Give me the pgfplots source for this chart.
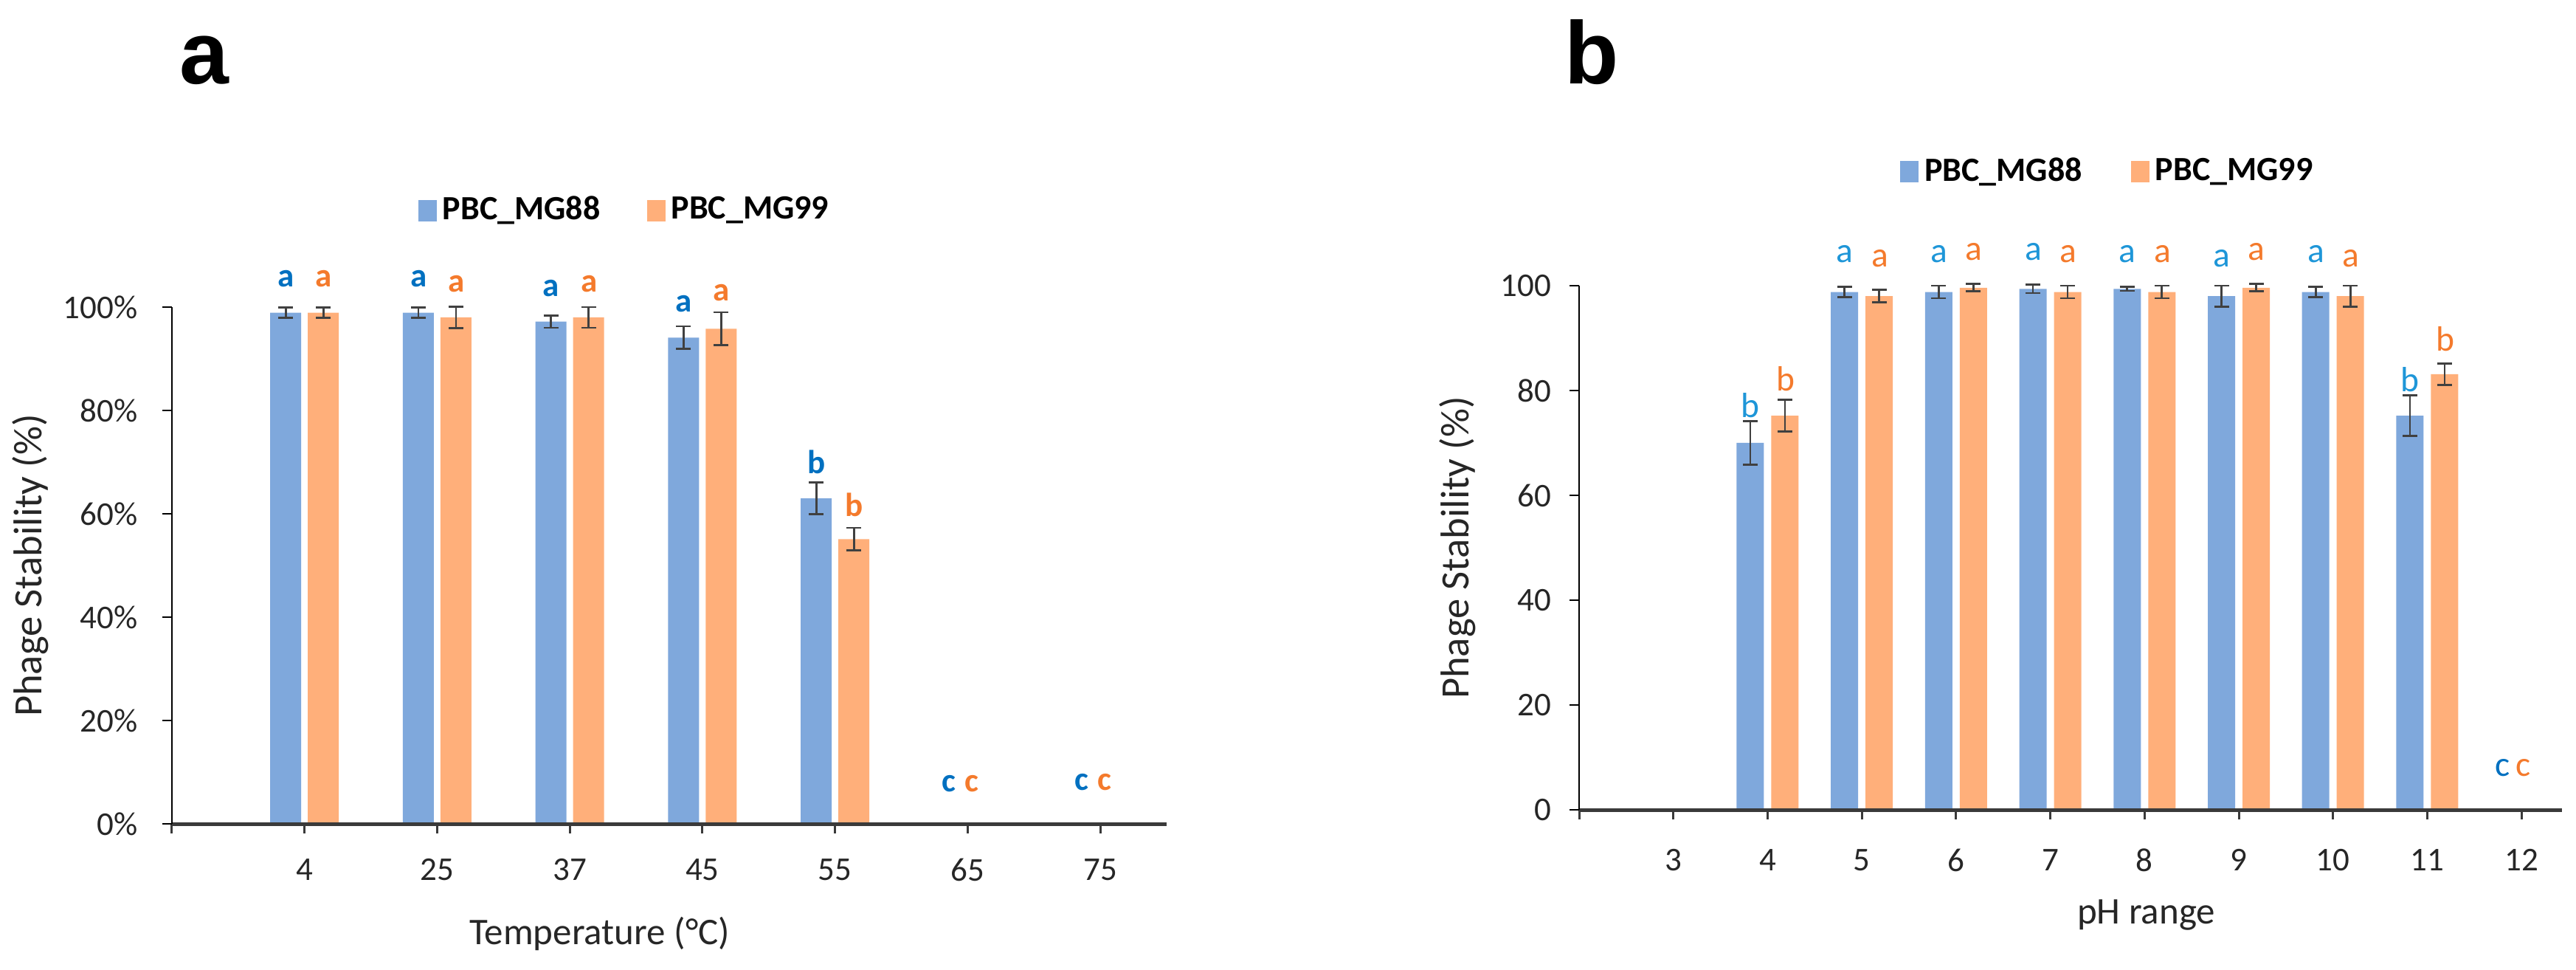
\documentclass[border=0pt]{standalone}
\usepackage{pgfplots}
\pgfplotsset{compat=1.18}
\usepackage{fontspec}
\setmainfont{Carlito}
\newfontfamily\panelfont{Liberation Sans}
\definecolor{barblue}{HTML}{7FA8DC}
\definecolor{barorange}{HTML}{FFAF7A}
\definecolor{errgray}{HTML}{404040}
\definecolor{ablue}{HTML}{0070C0}
\definecolor{bblue}{HTML}{1E96D8}
\definecolor{lorange}{HTML}{F47A2C}
\definecolor{axgray}{HTML}{3A3A3A}
\tikzset{
  lta/.style={font=\bfseries\fontsize{9}{10}\selectfont, inner sep=0pt, anchor=center},
  ltb/.style={font=\fontsize{9.5}{10}\selectfont, inner sep=0pt, anchor=center},
}
\pgfplotsset{
  errbar/.style={error bars/.cd, y dir=both, y explicit,
      error bar style={line width=0.55pt, errgray},
      error mark options={rotate=90, line width=0.55pt, errgray, mark size=2pt}},
  sq/.style={legend image code/.code={\fill[fill=#1] (0pt,-2.9pt) rectangle (5pt,2.9pt);}},
  mybase/.style={
    scale only axis, clip=false, axis on top,
    axis x line*=bottom, axis y line*=left,
    x axis line style={line width=1pt, axgray, -},
    y axis line style={line width=0.45pt, black, -},
    tick align=outside, major tick length=2.6pt,
    xtick style={line width=0.6pt, axgray},
    ytick style={line width=0.45pt, black},
    tick label style={font=\fontsize{9}{10}\selectfont, text=black!85},
    xlabel style={font=\fontsize{10.2}{12}\selectfont, text=black!85},
    ylabel style={font=\fontsize{10.9}{12}\selectfont, text=black!85},
    legend columns=2,
  },
}
\begin{document}
\begin{tikzpicture}[x=1pt,y=1pt]
\useasboundingbox (0,0) rectangle (698.2,262.6);
% ---------------- panel a ----------------
\node[font=\panelfont\bfseries\fontsize{24}{26}\selectfont, inner sep=0pt, anchor=center] at (55.4,246.2) {a};
\begin{axis}[mybase,
  ybar=1.8pt, bar width=8.4pt,
  at={(46.6pt,39.4pt)}, anchor=south west,
  width=269.6pt, height=140pt,
  xmin=0, xmax=7.5, ymin=0, ymax=100,
  xtick={0,...,7}, xticklabels={,4,25,37,45,55,65,75},
  ytick={0,20,...,100}, yticklabels={0\%,20\%,40\%,60\%,80\%,100\%},
  xticklabel style={yshift=-3.3pt},
  yticklabel style={xshift=-3.2pt},
  xlabel={Temperature (°C)}, ylabel={Phage Stability (\%)},
  xlabel style={at={(axis description cs:0.43,-0.213)}, anchor=center},
  ylabel style={at={(axis description cs:-0.1424,0.5)}, anchor=center},
  legend style={draw=none, fill=none, at={(axis description cs:0.247,1.187)}, anchor=west,
    inner sep=0pt, font=\bfseries\fontsize{9.2}{10}\selectfont,
    nodes={inner sep=1.6pt},
    /tikz/every even column/.append style={column sep=11pt}},
]
\addplot[fill=barblue, draw=none, sq=barblue, errbar]
 table[x=x, y=y, y error=e]{
x y e
1 98.9 1.0
2 98.9 1.0
3 97.2 1.2
4 94.1 2.2
5 63.0 3.1
};
\addlegendentry{PBC\_MG88}
\addplot[fill=barorange, draw=none, sq=barorange, errbar]
 table[x=x, y=y, y error=e]{
x y e
1 98.9 1.0
2 98.0 2.1
3 98.0 2.0
4 95.8 3.2
5 55.1 2.2
};
\addlegendentry{PBC\_MG99}
\node[lta, text=ablue] at (axis cs:0.86,105.5) {a};
\node[lta, text=lorange] at (axis cs:1.145,105.5) {a};
\node[lta, text=ablue] at (axis cs:1.86,105.5) {a};
\node[lta, text=lorange] at (axis cs:2.145,104.5) {a};
\node[lta, text=ablue] at (axis cs:2.86,103.6) {a};
\node[lta, text=lorange] at (axis cs:3.145,104.5) {a};
\node[lta, text=ablue] at (axis cs:3.86,100.6) {a};
\node[lta, text=lorange] at (axis cs:4.145,102.8) {a};
\node[lta, text=ablue] at (axis cs:4.86,70.0) {b};
\node[lta, text=lorange] at (axis cs:5.145,61.8) {b};
\node[lta, text=ablue] at (axis cs:5.86,7.8) {c};
\node[lta, text=lorange] at (axis cs:6.03,7.8) {c};
\node[lta, text=ablue] at (axis cs:6.86,8.1) {c};
\node[lta, text=lorange] at (axis cs:7.03,8.1) {c};
\end{axis}
% ---------------- panel b ----------------
\node[font=\panelfont\bfseries\fontsize{24}{26}\selectfont, inner sep=0pt, anchor=center] at (431.4,248.4) {b};
\begin{axis}[mybase,
  ybar=2pt, bar width=7.4pt,
  at={(428pt,43.2pt)}, anchor=south west,
  width=266.4pt, height=142pt,
  xmin=2, xmax=12.43, ymin=0, ymax=100,
  xtick={2,...,12}, xticklabels={,3,4,5,6,7,8,9,10,11,12},
  ytick={0,20,...,100}, yticklabels={0,20,40,60,80,100},
  xticklabel style={yshift=-4.5pt},
  yticklabel style={xshift=-1.4pt},
  xlabel={pH range}, ylabel={Phage Stability (\%)},
  xlabel style={at={(axis description cs:0.577,-0.201)}, anchor=center},
  ylabel style={at={(axis description cs:-0.1239,0.5)}, anchor=center},
  legend style={draw=none, fill=none, at={(axis description cs:0.326,1.217)}, anchor=west,
    inner sep=0pt, font=\bfseries\fontsize{9.2}{10}\selectfont,
    nodes={inner sep=1.6pt},
    /tikz/every even column/.append style={column sep=11.6pt}},
]
\addplot[fill=barblue, draw=none, sq=barblue, errbar]
 table[x=x, y=y, y error=e]{
x y e
4 70.0 4.2
5 98.8 1.0
6 98.8 1.2
7 99.4 0.8
8 99.4 0.4
9 98.0 2.0
10 98.8 1.0
11 75.2 3.9
};
\addlegendentry{PBC\_MG88}
\addplot[fill=barorange, draw=none, sq=barorange, errbar]
 table[x=x, y=y, y error=e]{
x y e
4 75.2 3.0
5 98.0 1.2
6 99.6 0.7
7 98.8 1.2
8 98.8 1.2
9 99.6 0.7
10 98.0 2.0
11 83.1 2.0
};
\addlegendentry{PBC\_MG99}
\node[ltb, text=bblue] at (axis cs:3.82,77.1) {b};
\node[ltb, text=lorange] at (axis cs:4.19,82.2) {b};
\node[ltb, text=bblue] at (axis cs:4.82,106.1) {a};
\node[ltb, text=lorange] at (axis cs:5.19,105.2) {a};
\node[ltb, text=bblue] at (axis cs:5.82,106.1) {a};
\node[ltb, text=lorange] at (axis cs:6.19,106.4) {a};
\node[ltb, text=bblue] at (axis cs:6.82,106.4) {a};
\node[ltb, text=lorange] at (axis cs:7.19,106.1) {a};
\node[ltb, text=bblue] at (axis cs:7.82,106.1) {a};
\node[ltb, text=lorange] at (axis cs:8.19,106.1) {a};
\node[ltb, text=bblue] at (axis cs:8.82,105.2) {a};
\node[ltb, text=lorange] at (axis cs:9.19,106.4) {a};
\node[ltb, text=bblue] at (axis cs:9.82,106.1) {a};
\node[ltb, text=lorange] at (axis cs:10.19,105.2) {a};
\node[ltb, text=bblue] at (axis cs:10.82,82.1) {b};
\node[ltb, text=lorange] at (axis cs:11.19,89.9) {b};
\node[ltb, text=ablue] at (axis cs:11.8,8.0) {c};
\node[ltb, text=lorange] at (axis cs:12.02,8.0) {c};
\end{axis}
\end{tikzpicture}
\end{document}
